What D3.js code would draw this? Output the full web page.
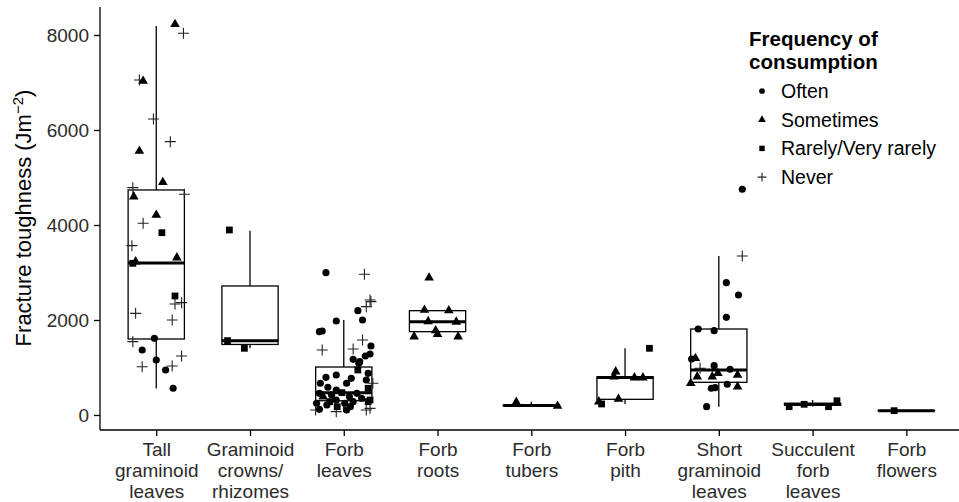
<!DOCTYPE html>
<html>
<head>
<meta charset="utf-8">
<script src="https://cdn.jsdelivr.net/npm/d3@7"></script>
<style>
  body { margin: 0; background: #fff; }
  svg { display: block; font-family: "Liberation Sans", Arial, Helvetica, sans-serif; }
</style>
</head>
<body>
<svg id="chart" width="959" height="502"></svg>
<script>
'use strict';

// categories, each label split into its lines
const categories = [
  ['Tall', 'graminoid', 'leaves'],
  ['Graminoid', 'crowns/', 'rhizomes'],
  ['Forb', 'leaves'],
  ['Forb', 'roots'],
  ['Forb', 'tubers'],
  ['Forb', 'pith'],
  ['Short', 'graminoid', 'leaves'],
  ['Succulent', 'forb', 'leaves'],
  ['Forb', 'flowers']
];

// box summaries
const q1 = [1600, 1485, 300, 1754, 198, 330, 688, 205, 88];
const median = [3200, 1565, 470, 1965, 200, 790, 947, 225, 91];
const q3 = [4737, 2716, 1010, 2196, 203, 807, 1810, 245, 94];
const whiskerLow = [560, 1404, 70, 1650, 190, 232, 175, 175, 88];
const whiskerHigh = [8189, 3880, 2000, 2210, 280, 1404, 3347, 316, 94];

const yTicks = [0, 2000, 4000, 6000, 8000];
const freqLabels = ['Often', 'Sometimes', 'Rarely/Very rarely', 'Never'];

// points: [jitter offset (in category steps), value, frequency]
// O = often, S = sometimes, R = rarely, N = never
const ptsTallGraminoid = [
  [0.20, 8225, 'S'], [0.29, 8035, 'N'], [-0.18, 7053, 'N'], [-0.14, 7032, 'S'],
  [-0.03, 6232, 'N'], [0.15, 5754, 'N'], [-0.18, 5558, 'S'], [0.07, 4899, 'S'],
  [-0.25, 4786, 'N'], [-0.24, 4596, 'S'], [0.30, 4646, 'N'], [0.00, 4210, 'S'],
  [-0.14, 4035, 'N'], [0.06, 3838, 'R'], [-0.26, 3565, 'N'], [-0.25, 3193, 'R'],
  [-0.22, 3228, 'S'], [0.22, 3312, 'S'], [0.20, 2505, 'R'], [0.20, 2337, 'N'],
  [0.27, 2365, 'N'], [-0.22, 2140, 'N'], [0.17, 2000, 'N'], [-0.25, 1544, 'N'],
  [-0.02, 1614, 'O'], [-0.15, 1368, 'O'], [0.27, 1242, 'N'], [-0.15, 1017, 'N'],
  [0.00, 1158, 'O'], [0.10, 947, 'O'], [0.17, 1032, 'N'], [0.18, 562, 'O']
];
const ptsGraminoidCrowns = [
  [-0.22, 3895, 'R'], [-0.24, 1565, 'R'], [-0.06, 1404, 'R']
];
const ptsForbLeaves = [
  [-0.19, 2996, 'O'], [0.22, 2962, 'N'], [0.28, 2421, 'N'], [0.24, 2281, 'N'],
  [0.29, 2386, 'N'], [0.15, 2196, 'O'], [0.20, 2000, 'O'], [-0.08, 1979, 'O'],
  [-0.26, 1754, 'O'], [-0.23, 1768, 'O'], [0.20, 1579, 'N'], [-0.23, 1368, 'N'],
  [0.10, 1389, 'N'], [0.29, 1453, 'O'], [0.28, 1284, 'O'], [0.23, 1242, 'O'],
  [0.10, 1172, 'O'], [0.16, 1088, 'O'], [0.17, 1122, 'O'], [0.15, 947, 'R'],
  [0.26, 877, 'O'], [-0.19, 793, 'O'], [-0.08, 842, 'O'], [0.08, 772, 'O'],
  [-0.25, 667, 'O'], [0.03, 667, 'O'], [0.24, 737, 'O'], [0.31, 667, 'N'],
  [-0.17, 583, 'O'], [-0.08, 526, 'O'], [0.26, 562, 'R'], [-0.26, 456, 'O'],
  [-0.02, 470, 'R'], [-0.13, 421, 'O'], [0.14, 456, 'O'], [0.06, 386, 'O'],
  [-0.22, 386, 'S'], [0.19, 351, 'O'], [-0.15, 281, 'R'], [-0.08, 316, 'O'],
  [0.01, 246, 'O'], [0.10, 281, 'O'], [0.26, 281, 'R'], [-0.29, 246, 'O'],
  [-0.18, 211, 'O'], [-0.07, 175, 'R'], [0.07, 175, 'O'], [0.03, 105, 'O'],
  [-0.30, 105, 'N'], [-0.26, 119, 'O'], [-0.08, 70, 'N'], [0.24, 105, 'N'],
  [0.28, 140, 'N'], [0.28, 316, 'R']
];
const ptsForbRoots = [
  [-0.09, 2890, 'S'], [-0.14, 2210, 'S'], [0.12, 2200, 'S'], [-0.10, 1970, 'S'],
  [0.20, 1960, 'S'], [-0.02, 1780, 'S'], [-0.25, 1650, 'S'], [0.22, 1650, 'S'],
  [0.00, 1700, 'S']
];
const ptsForbTubers = [
  [-0.16, 270, 'S'], [0.28, 190, 'S']
];
const ptsForbPith = [
  [0.26, 1404, 'R'], [-0.10, 912, 'S'], [-0.12, 807, 'S'], [0.10, 786, 'S'],
  [0.19, 786, 'S'], [-0.28, 281, 'S'], [-0.07, 337, 'S'], [-0.25, 232, 'R']
];
const ptsShortGraminoid = [
  [0.25, 4752, 'O'], [0.25, 3347, 'N'], [0.08, 2786, 'O'], [0.21, 2526, 'O'],
  [0.08, 2056, 'O'], [-0.22, 1810, 'O'], [-0.05, 1775, 'O'], [-0.29, 1179, 'O'],
  [-0.25, 1193, 'S'], [-0.20, 982, 'N'], [-0.05, 1038, 'O'], [0.12, 962, 'O'],
  [-0.23, 807, 'S'], [-0.07, 807, 'S'], [-0.01, 877, 'S'], [0.20, 842, 'S'],
  [-0.30, 667, 'S'], [-0.08, 562, 'O'], [-0.04, 575, 'O'], [0.09, 646, 'O'],
  [0.20, 596, 'S'], [-0.13, 175, 'O']
];
const ptsSucculent = [
  [-0.25, 175, 'R'], [-0.09, 225, 'R'], [0.17, 175, 'R'], [0.26, 300, 'R']
];
const ptsForbFlowers = [
  [-0.13, 91, 'R']
];

const pointsByCategory = [
  ptsTallGraminoid, ptsGraminoidCrowns, ptsForbLeaves, ptsForbRoots,
  ptsForbTubers, ptsForbPith, ptsShortGraminoid, ptsSucculent, ptsForbFlowers
];

let svg = d3.select('#chart');
let plotLeft = 100;
let plotRight = 962.6;
let plotTop = 7;
let plotBottom = 430;

let catNames = categories.map(function(c) { return c.join(' '); });

let x = d3
  .scalePoint()
  .domain(catNames)
  .range([plotLeft, plotRight])
  .padding(0.6);
let step = x.step();
let boxWidth = step * 0.6;

let y = d3
  .scaleLinear()
  .domain([-316, 8589])
  .range([plotBottom, plotTop]);

// boxes
let boxes = svg.append('g').attr('class', 'boxes');
catNames.forEach(function(name, i) {
  let cx = x(name);
  let g = boxes.append('g');
  g.append('line')
    .attr('x1', cx).attr('x2', cx)
    .attr('y1', y(q3[i])).attr('y2', y(whiskerHigh[i]))
    .attr('stroke', '#000').attr('stroke-width', 1.3);
  g.append('line')
    .attr('x1', cx).attr('x2', cx)
    .attr('y1', y(q1[i])).attr('y2', y(whiskerLow[i]))
    .attr('stroke', '#000').attr('stroke-width', 1.3);
  g.append('rect')
    .attr('x', cx - boxWidth / 2)
    .attr('y', y(q3[i]))
    .attr('width', boxWidth)
    .attr('height', Math.max(0, y(q1[i]) - y(q3[i])))
    .attr('fill', 'none')
    .attr('stroke', '#000').attr('stroke-width', 1.3);
  g.append('line')
    .attr('x1', cx - boxWidth / 2).attr('x2', cx + boxWidth / 2)
    .attr('y1', y(median[i])).attr('y2', y(median[i]))
    .attr('stroke', '#000').attr('stroke-width', 3);
});

// point markers
let symbolTypes = {O: d3.symbolCircle, S: d3.symbolTriangle, R: d3.symbolSquare};
let symbolSizes = {O: 40, S: 40, R: 46};

function plusPath(r) {
  return 'M' + (-r) + ',0H' + r + 'M0,' + (-r) + 'V' + r;
}

function drawMarker(g, code, px, py, scale) {
  if (code === 'N') {
    g.append('path')
      .attr('d', plusPath(5.5 * scale))
      .attr('transform', 'translate(' + px + ',' + py + ')')
      .attr('fill', 'none')
      .attr('stroke', '#222')
      .attr('stroke-width', 1.1);
  } else {
    g.append('path')
      .attr('d', d3.symbol().type(symbolTypes[code]).size(symbolSizes[code] * scale * scale)())
      .attr('transform', 'translate(' + px + ',' + py + ')')
      .attr('fill', '#000');
  }
}

let points = svg.append('g').attr('class', 'points');
pointsByCategory.forEach(function(pts, i) {
  let cx = x(catNames[i]);
  pts.forEach(function(p) {
    drawMarker(points, p[2], cx + p[0] * step, y(p[1]), 1);
  });
});

// axes
let yAxis = svg.append('g')
  .attr('transform', 'translate(' + plotLeft + ',0)')
  .call(d3.axisLeft(y).tickValues(yTicks).tickSize(6).tickPadding(5).tickFormat(d3.format('d')));
yAxis.select('.domain').attr('d', 'M0,' + plotTop + 'V' + plotBottom).attr('stroke-width', 1.3);
yAxis.selectAll('.tick line').attr('stroke-width', 1.3);
yAxis.selectAll('.tick text')
  .attr('font-size', '19px')
  .attr('fill', '#2b2b2b');

let xAxis = svg.append('g')
  .attr('transform', 'translate(0,' + plotBottom + ')')
  .call(d3.axisBottom(x).tickSize(6).tickFormat(''));
xAxis.select('.domain').attr('d', 'M' + plotLeft + ',0H' + 959).attr('stroke-width', 1.3);
xAxis.selectAll('.tick line').attr('stroke-width', 1.3);
xAxis.selectAll('.tick').each(function(d, i) {
  let t = d3.select(this).append('text')
    .attr('fill', '#2b2b2b')
    .attr('font-size', '19px')
    .attr('text-anchor', 'middle');
  categories[i].forEach(function(line, j) {
    t.append('tspan')
      .attr('x', 0)
      .attr('y', 26 + j * 21)
      .text(line);
  });
});

// y axis title
svg.append('text')
  .attr('transform', 'translate(31,218) rotate(-90)')
  .attr('text-anchor', 'middle')
  .attr('font-size', '22px')
  .attr('fill', '#000')
  .call(function(t) {
    t.append('tspan').text('Fracture toughness (Jm');
    t.append('tspan').attr('font-size', '15px').attr('dy', -8).text('\u22122');
    t.append('tspan').attr('dy', 8).text(')');
  });

// legend
let legend = svg.append('g').attr('class', 'legend');
legend.append('text')
  .attr('x', 749).attr('y', 46)
  .attr('font-size', '20.5px').attr('font-weight', 'bold')
  .text('Frequency of');
legend.append('text')
  .attr('x', 749).attr('y', 69)
  .attr('font-size', '20.5px').attr('font-weight', 'bold')
  .text('consumption');
['O', 'S', 'R', 'N'].forEach(function(code, i) {
  let cy = 91 + i * 28.7;
  drawMarker(legend, code, 762, cy, 0.8);
  legend.append('text')
    .attr('x', 781).attr('y', cy)
    .attr('dy', '0.35em')
    .attr('font-size', '19.5px')
    .attr('fill', '#000')
    .text(freqLabels[i]);
});
</script>
</body>
</html>
